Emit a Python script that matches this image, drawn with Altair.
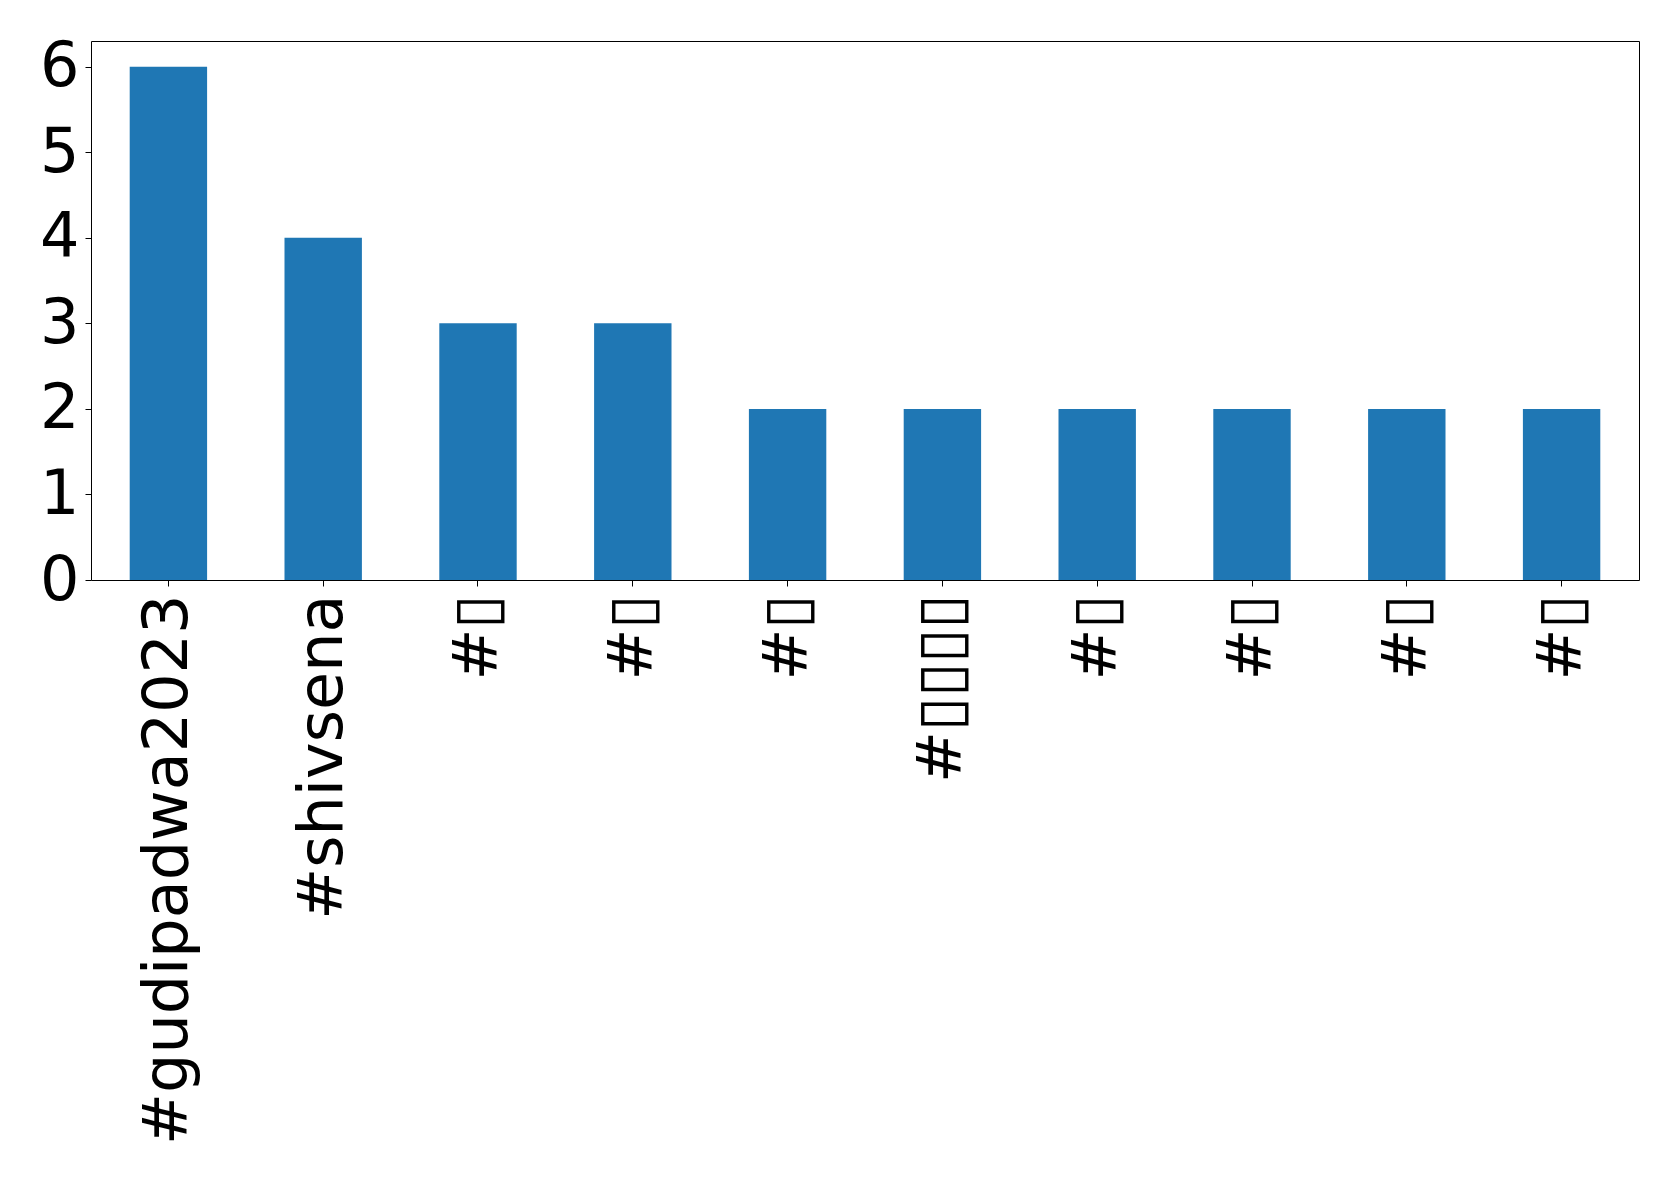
import json
import altair as alt
import pandas as pd

labels = ["#gudipadwa2023", "#shivsena", "#▯", "#▯", "#▯", "#▯▯▯▯", "#▯", "#▯", "#▯", "#▯"]
counts = [6, 4, 3, 3, 2, 2, 2, 2, 2, 2]
keys = [str(i) for i in range(len(labels))]

df = pd.DataFrame({"key": keys, "label": labels, "count": counts})

label_expr = f"{json.dumps(labels, ensure_ascii=False)}[toNumber(datum.value)]"

chart = (
    alt.Chart(df)
    .mark_bar(color="#1f77b4")
    .encode(
        x=alt.X(
            "key:N",
            sort=keys,
            title=None,
            scale=alt.Scale(paddingInner=0.5, paddingOuter=0.25),
            axis=alt.Axis(
                labelExpr=label_expr,
                labelAngle=-90,
                labelFontSize=62,
                labelFont="DejaVu Sans",
                labelColor="black",
                tickColor="black",
                tickSize=6,
                labelPadding=8,
                domain=False,
                grid=False,
                labelOverlap=False,
                labelLimit=1000,
            ),
        ),
        y=alt.Y(
            "count:Q",
            title=None,
            scale=alt.Scale(domain=[0, 6.3], nice=False, zero=True),
            axis=alt.Axis(
                values=[0, 1, 2, 3, 4, 5, 6],
                format="d",
                labelFontSize=62,
                labelFont="DejaVu Sans",
                labelColor="black",
                tickColor="black",
                tickSize=6,
                labelPadding=6,
                domain=False,
                grid=False,
            ),
        ),
    )
    .properties(
        width=1548,
        height=539,
        autosize=alt.AutoSizeParams(type="none"),
        padding={"left": 83, "top": 33, "right": 32, "bottom": 575},
    )
    .configure_view(stroke="black", strokeWidth=1)
)

chart.save("out.html", embed_options={"renderer": "svg", "actions": False})
